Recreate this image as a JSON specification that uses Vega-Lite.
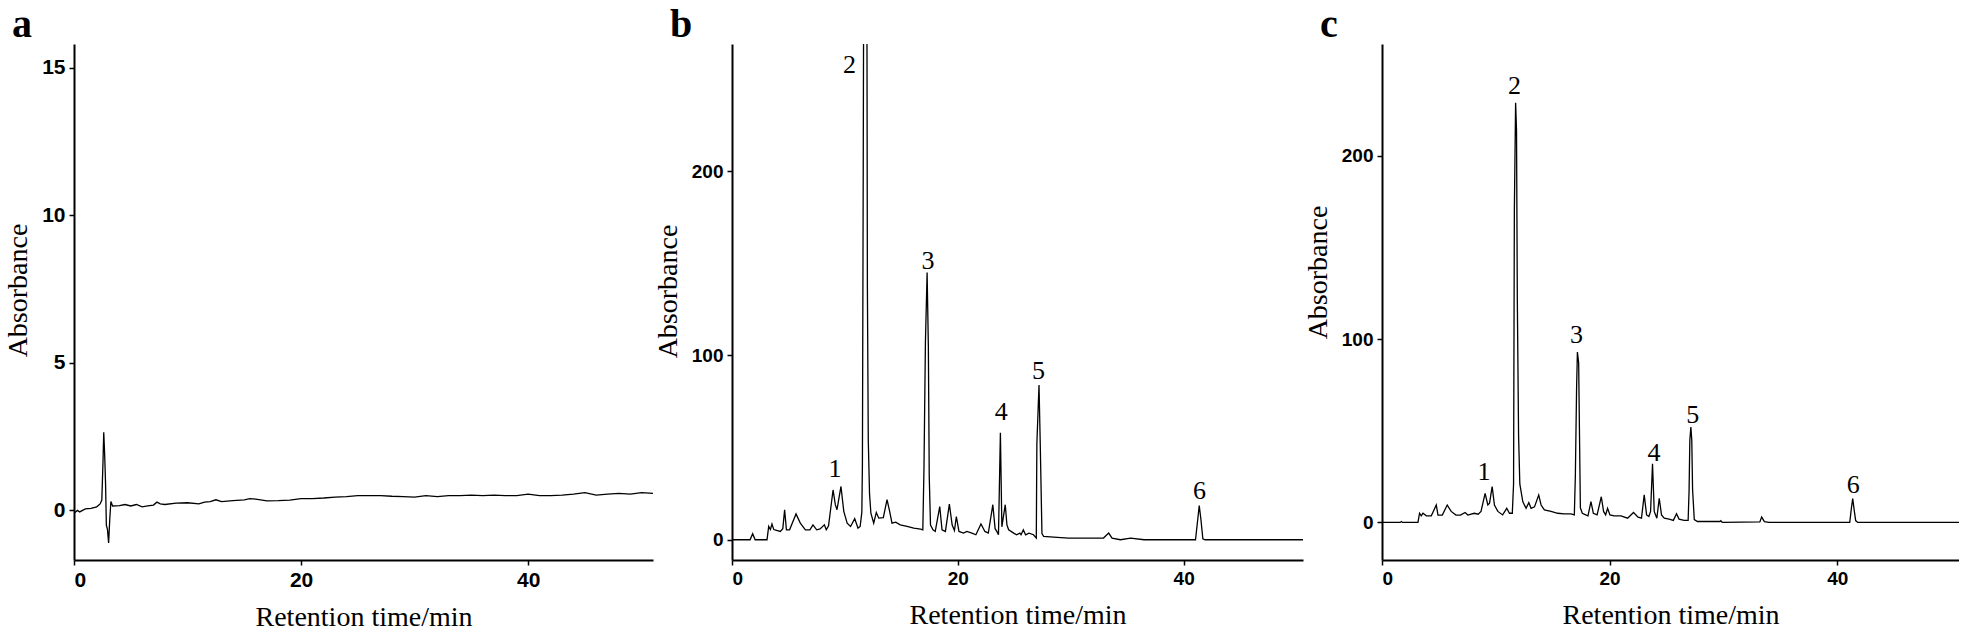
{
  "$schema": "https://vega.github.io/schema/vega-lite/v6.json",
  "padding": {"left": 4, "top": 5, "right": 0, "bottom": 0},
  "background": "white",
  "bounds": "flush",
  "spacing": 79,
  "config": {
    "view": {"stroke": null},
    "axis": {
      "domainColor": "black", "domainWidth": 2, "tickColor": "black", "tickWidth": 1.5, "tickSize": 5,
      "grid": false, "labelFont": "Liberation Sans", "labelFontWeight": "bold", "labelColor": "black", "labelPadding": 4,
      "titleFont": "Liberation Serif", "titleFontWeight": "normal", "titleColor": "black", "titleFontSize": 28
    },
    "axisX": {"titlePadding": 13},
    "axisY": {"titlePadding": 9},
    "title": {"font": "Liberation Serif", "fontSize": 40, "fontWeight": "bold", "anchor": "start", "frame": "group", "dx": -62, "baseline": "alphabetic", "offset": -1, "color": "black"}
  },
  "datasets": {
    "a": [
      {"t": 0, "v": -0.1}, {"t": 0.3, "v": 0.0}, {"t": 0.5, "v": -0.05}, {"t": 1, "v": 0.05}, {"t": 1.5, "v": 0.07},
      {"t": 2, "v": 0.12}, {"t": 2.3, "v": 0.22}, {"t": 2.45, "v": 0.35}, {"t": 2.55, "v": 1.6}, {"t": 2.62, "v": 2.65},
      {"t": 2.7, "v": 1.9}, {"t": 2.78, "v": 0.9}, {"t": 2.85, "v": -0.5}, {"t": 2.95, "v": -0.65}, {"t": 3.05, "v": -1.1},
      {"t": 3.15, "v": -0.3}, {"t": 3.25, "v": 0.3}, {"t": 3.4, "v": 0.15}, {"t": 4, "v": 0.16}, {"t": 4.5, "v": 0.2},
      {"t": 5, "v": 0.15}, {"t": 5.5, "v": 0.2}, {"t": 6, "v": 0.12}, {"t": 6.5, "v": 0.15}, {"t": 7, "v": 0.18},
      {"t": 7.3, "v": 0.28}, {"t": 7.6, "v": 0.22}, {"t": 8, "v": 0.2}, {"t": 9, "v": 0.25}, {"t": 10, "v": 0.26},
      {"t": 11, "v": 0.22}, {"t": 11.5, "v": 0.28}, {"t": 12, "v": 0.3}, {"t": 12.5, "v": 0.36}, {"t": 13, "v": 0.3},
      {"t": 14, "v": 0.33}, {"t": 15, "v": 0.36}, {"t": 15.5, "v": 0.4}, {"t": 16, "v": 0.38}, {"t": 17, "v": 0.32},
      {"t": 18, "v": 0.33}, {"t": 19, "v": 0.35}, {"t": 20, "v": 0.4}, {"t": 21, "v": 0.4}, {"t": 22, "v": 0.42},
      {"t": 23, "v": 0.45}, {"t": 24, "v": 0.47}, {"t": 25, "v": 0.5}, {"t": 26, "v": 0.5}, {"t": 27, "v": 0.5},
      {"t": 28, "v": 0.48}, {"t": 29, "v": 0.47}, {"t": 30, "v": 0.45}, {"t": 31, "v": 0.5}, {"t": 32, "v": 0.47},
      {"t": 33, "v": 0.5}, {"t": 34, "v": 0.5}, {"t": 35, "v": 0.52}, {"t": 36, "v": 0.5}, {"t": 37, "v": 0.52},
      {"t": 38, "v": 0.5}, {"t": 39, "v": 0.5}, {"t": 40, "v": 0.55}, {"t": 41, "v": 0.5}, {"t": 42, "v": 0.5},
      {"t": 43, "v": 0.52}, {"t": 44, "v": 0.55}, {"t": 45, "v": 0.6}, {"t": 46, "v": 0.52}, {"t": 47, "v": 0.55},
      {"t": 48, "v": 0.58}, {"t": 49, "v": 0.55}, {"t": 50, "v": 0.6}, {"t": 51, "v": 0.58}
    ],
    "b": [
      {"t": 0, "v": 0}, {"t": 1.6, "v": 0}, {"t": 1.83, "v": 3.3}, {"t": 2.05, "v": 0}, {"t": 3.1, "v": 0},
      {"t": 3.25, "v": 7.2}, {"t": 3.4, "v": 5.5}, {"t": 3.54, "v": 8.5}, {"t": 3.7, "v": 5.5}, {"t": 4.28, "v": 4.5},
      {"t": 4.5, "v": 6}, {"t": 4.66, "v": 16.3}, {"t": 4.82, "v": 5.4}, {"t": 5.1, "v": 5.4}, {"t": 5.67, "v": 14},
      {"t": 6.05, "v": 9}, {"t": 6.5, "v": 5.4}, {"t": 6.9, "v": 5.4}, {"t": 7.17, "v": 8.1}, {"t": 7.5, "v": 5.4},
      {"t": 7.8, "v": 5.9}, {"t": 8.18, "v": 8.1}, {"t": 8.35, "v": 5.4}, {"t": 8.55, "v": 7.5}, {"t": 8.95, "v": 27},
      {"t": 9.15, "v": 19}, {"t": 9.3, "v": 16.3}, {"t": 9.65, "v": 28.9}, {"t": 9.9, "v": 15.4}, {"t": 10.2, "v": 9},
      {"t": 10.5, "v": 7.2}, {"t": 10.87, "v": 11.4}, {"t": 11.16, "v": 6.3}, {"t": 11.35, "v": 7.2}, {"t": 11.5, "v": 15},
      {"t": 11.55, "v": 41}, {"t": 11.62, "v": 195}, {"t": 11.7, "v": 400}, {"t": 11.92, "v": 400}, {"t": 11.99, "v": 138},
      {"t": 12.07, "v": 54}, {"t": 12.18, "v": 25}, {"t": 12.3, "v": 14.4}, {"t": 12.55, "v": 9}, {"t": 12.78, "v": 14.8},
      {"t": 13.0, "v": 11.7}, {"t": 13.4, "v": 12}, {"t": 13.73, "v": 21.7}, {"t": 13.93, "v": 16.3}, {"t": 14.17, "v": 9},
      {"t": 14.5, "v": 9.5}, {"t": 14.9, "v": 8.1}, {"t": 15.5, "v": 7.2}, {"t": 16.1, "v": 6.3}, {"t": 16.7, "v": 5.8},
      {"t": 16.9, "v": 5.4}, {"t": 17.0, "v": 38}, {"t": 17.13, "v": 107}, {"t": 17.28, "v": 145}, {"t": 17.39, "v": 105},
      {"t": 17.47, "v": 34}, {"t": 17.58, "v": 8}, {"t": 17.8, "v": 5.4}, {"t": 18.0, "v": 4.5}, {"t": 18.4, "v": 18},
      {"t": 18.6, "v": 5.4}, {"t": 18.9, "v": 4.5}, {"t": 19.25, "v": 19.3}, {"t": 19.5, "v": 8}, {"t": 19.7, "v": 5},
      {"t": 19.87, "v": 12.6}, {"t": 20.1, "v": 4.5}, {"t": 20.5, "v": 3.6}, {"t": 20.8, "v": 4.5}, {"t": 21.25, "v": 3.6},
      {"t": 21.6, "v": 2.7}, {"t": 22.05, "v": 8.5}, {"t": 22.4, "v": 4.5}, {"t": 22.7, "v": 3.6}, {"t": 23.1, "v": 19},
      {"t": 23.3, "v": 6}, {"t": 23.45, "v": 4.5}, {"t": 23.6, "v": 2.7}, {"t": 23.77, "v": 58}, {"t": 23.9, "v": 7},
      {"t": 24.0, "v": 11}, {"t": 24.2, "v": 19}, {"t": 24.35, "v": 8}, {"t": 24.5, "v": 5.4}, {"t": 24.95, "v": 3.6},
      {"t": 25.2, "v": 2.7}, {"t": 25.5, "v": 3.6}, {"t": 25.6, "v": 2.7}, {"t": 25.8, "v": 5.4}, {"t": 26.0, "v": 2.7},
      {"t": 26.3, "v": 3.6}, {"t": 26.7, "v": 2.7}, {"t": 26.95, "v": 0.9}, {"t": 27.0, "v": 52}, {"t": 27.19, "v": 84},
      {"t": 27.3, "v": 52}, {"t": 27.45, "v": 3.3}, {"t": 27.6, "v": 1.8}, {"t": 28.8, "v": 1.3}, {"t": 29.8, "v": 0.9},
      {"t": 32.9, "v": 0.9}, {"t": 33.36, "v": 3.6}, {"t": 33.66, "v": 0.9}, {"t": 34.4, "v": 0}, {"t": 35.3, "v": 0.9},
      {"t": 36.5, "v": 0}, {"t": 41.05, "v": 0}, {"t": 41.23, "v": 10}, {"t": 41.38, "v": 18.5}, {"t": 41.53, "v": 11},
      {"t": 41.7, "v": 0.5}, {"t": 41.9, "v": 0}, {"t": 50.84, "v": 0}
    ],
    "c": [
      {"t": 0, "v": 0}, {"t": 1.6, "v": 0}, {"t": 1.7, "v": 0.5}, {"t": 1.8, "v": 0}, {"t": 3.16, "v": 0},
      {"t": 3.3, "v": 5}, {"t": 3.45, "v": 3.6}, {"t": 3.6, "v": 5}, {"t": 3.9, "v": 3.6}, {"t": 4.33, "v": 3.6},
      {"t": 4.77, "v": 9.5}, {"t": 4.92, "v": 4}, {"t": 5.3, "v": 4}, {"t": 5.73, "v": 9.5}, {"t": 6.08, "v": 6},
      {"t": 6.5, "v": 4}, {"t": 6.9, "v": 4}, {"t": 7.3, "v": 5.4}, {"t": 7.55, "v": 4}, {"t": 8.1, "v": 5},
      {"t": 8.45, "v": 4.5}, {"t": 8.7, "v": 6}, {"t": 9.06, "v": 15.9}, {"t": 9.3, "v": 9.5}, {"t": 9.45, "v": 10.5},
      {"t": 9.68, "v": 19.5}, {"t": 9.88, "v": 9.5}, {"t": 10.18, "v": 6}, {"t": 10.6, "v": 4.1}, {"t": 10.96, "v": 7.7},
      {"t": 11.2, "v": 5}, {"t": 11.45, "v": 5}, {"t": 11.56, "v": 21}, {"t": 11.63, "v": 170}, {"t": 11.74, "v": 229},
      {"t": 11.82, "v": 214}, {"t": 11.89, "v": 122}, {"t": 12.0, "v": 47.5}, {"t": 12.11, "v": 21}, {"t": 12.37, "v": 11.4},
      {"t": 12.66, "v": 7.7}, {"t": 12.9, "v": 10.8}, {"t": 13.1, "v": 7.7}, {"t": 13.4, "v": 8.5}, {"t": 13.77, "v": 15},
      {"t": 13.98, "v": 9.5}, {"t": 14.27, "v": 6.8}, {"t": 14.85, "v": 6}, {"t": 15.44, "v": 5}, {"t": 16.0, "v": 4.7},
      {"t": 16.6, "v": 4.7}, {"t": 16.9, "v": 4.1}, {"t": 16.99, "v": 25.6}, {"t": 17.1, "v": 74}, {"t": 17.17, "v": 93},
      {"t": 17.28, "v": 87}, {"t": 17.36, "v": 45}, {"t": 17.43, "v": 8}, {"t": 17.6, "v": 5}, {"t": 17.9, "v": 4.1},
      {"t": 18.1, "v": 3.6}, {"t": 18.36, "v": 11.4}, {"t": 18.57, "v": 5}, {"t": 18.9, "v": 4.1}, {"t": 19.27, "v": 14},
      {"t": 19.47, "v": 6}, {"t": 19.65, "v": 4.1}, {"t": 19.82, "v": 7.7}, {"t": 20.03, "v": 4.1}, {"t": 20.4, "v": 3.6},
      {"t": 21.0, "v": 3.6}, {"t": 21.58, "v": 2.3}, {"t": 22.1, "v": 5.4}, {"t": 22.5, "v": 2.9}, {"t": 22.8, "v": 2.3},
      {"t": 23.04, "v": 15}, {"t": 23.25, "v": 4.1}, {"t": 23.45, "v": 3.2}, {"t": 23.6, "v": 6}, {"t": 23.77, "v": 32},
      {"t": 23.92, "v": 6}, {"t": 24.15, "v": 2.3}, {"t": 24.36, "v": 13.2}, {"t": 24.56, "v": 4.1}, {"t": 24.8, "v": 2.3},
      {"t": 25.23, "v": 1.8}, {"t": 25.6, "v": 1.1}, {"t": 25.88, "v": 4.7}, {"t": 26.1, "v": 1.8}, {"t": 26.55, "v": 1.1},
      {"t": 26.9, "v": 1.1}, {"t": 26.98, "v": 16.8}, {"t": 27.05, "v": 45}, {"t": 27.14, "v": 52}, {"t": 27.22, "v": 45},
      {"t": 27.29, "v": 18}, {"t": 27.44, "v": 1.5}, {"t": 27.72, "v": 0.5}, {"t": 29.7, "v": 0.5}, {"t": 29.77, "v": 0.9},
      {"t": 29.9, "v": 0}, {"t": 33.2, "v": 0.3}, {"t": 33.36, "v": 2.9}, {"t": 33.6, "v": 0.4}, {"t": 34, "v": 0},
      {"t": 41.1, "v": 0}, {"t": 41.25, "v": 8}, {"t": 41.36, "v": 13}, {"t": 41.47, "v": 7.7}, {"t": 41.62, "v": 1},
      {"t": 41.8, "v": 0}, {"t": 51, "v": 0}
    ],
    "lb": [
      {"t": 9.12, "v": 34, "label": "1"}, {"t": 10.4, "v": 253, "label": "2"}, {"t": 17.35, "v": 147, "label": "3"},
      {"t": 23.85, "v": 65, "label": "4"}, {"t": 27.15, "v": 87, "label": "5"}, {"t": 41.4, "v": 22, "label": "6"}
    ],
    "lc": [
      {"t": 8.97, "v": 23.4, "label": "1"}, {"t": 11.65, "v": 233.5, "label": "2"}, {"t": 17.1, "v": 97.8, "label": "3"},
      {"t": 23.9, "v": 33.7, "label": "4"}, {"t": 27.3, "v": 54, "label": "5"}, {"t": 41.4, "v": 15.8, "label": "6"}
    ]
  },
  "hconcat": [
    {
      "title": {"text": "a"},
      "width": 579, "height": 516,
      "data": {"name": "a"},
      "mark": {"type": "line", "color": "black", "strokeWidth": 1.3, "clip": true},
      "encoding": {
        "x": {"field": "t", "type": "quantitative", "scale": {"domain": [0, 51], "nice": false, "zero": false},
              "axis": {"values": [0, 20, 40], "title": "Retention time/min", "labelFontSize": 21}},
        "y": {"field": "v", "type": "quantitative", "scale": {"domain": [-1.68, 15.8], "nice": false, "zero": false},
              "axis": {"values": [0, 5, 10, 15], "title": "Absorbance", "labelFontSize": 21, "titleY": 246}}
      }
    },
    {
      "title": {"text": "b"},
      "width": 571, "height": 516,
      "encoding": {
        "x": {"field": "t", "type": "quantitative", "scale": {"domain": [0, 50.57], "nice": false, "zero": false},
              "axis": {"values": [0, 20, 40], "title": "Retention time/min", "labelFontSize": 19}},
        "y": {"field": "v", "type": "quantitative", "scale": {"domain": [-11, 269], "nice": false, "zero": false},
              "axis": {"values": [0, 100, 200], "title": "Absorbance", "labelFontSize": 19, "titleY": 247}}
      },
      "layer": [
        {"data": {"name": "b"}, "mark": {"type": "line", "color": "black", "strokeWidth": 1.3, "clip": true}},
        {"data": {"name": "lb"}, "mark": {"type": "text", "font": "Liberation Serif", "fontSize": 26, "baseline": "alphabetic", "align": "center", "color": "black"},
         "encoding": {"text": {"field": "label"}}}
      ]
    },
    {
      "title": {"text": "c"},
      "width": 577, "height": 516,
      "encoding": {
        "x": {"field": "t", "type": "quantitative", "scale": {"domain": [0, 50.7], "nice": false, "zero": false},
              "axis": {"values": [0, 20, 40], "title": "Retention time/min", "labelFontSize": 19}},
        "y": {"field": "v", "type": "quantitative", "scale": {"domain": [-20.5, 261], "nice": false, "zero": false},
              "axis": {"values": [0, 100, 200], "title": "Absorbance", "labelFontSize": 19, "titleY": 228}}
      },
      "layer": [
        {"data": {"name": "c"}, "mark": {"type": "line", "color": "black", "strokeWidth": 1.3, "clip": true}},
        {"data": {"name": "lc"}, "mark": {"type": "text", "font": "Liberation Serif", "fontSize": 26, "baseline": "alphabetic", "align": "center", "color": "black"},
         "encoding": {"text": {"field": "label"}}}
      ]
    }
  ]
}
